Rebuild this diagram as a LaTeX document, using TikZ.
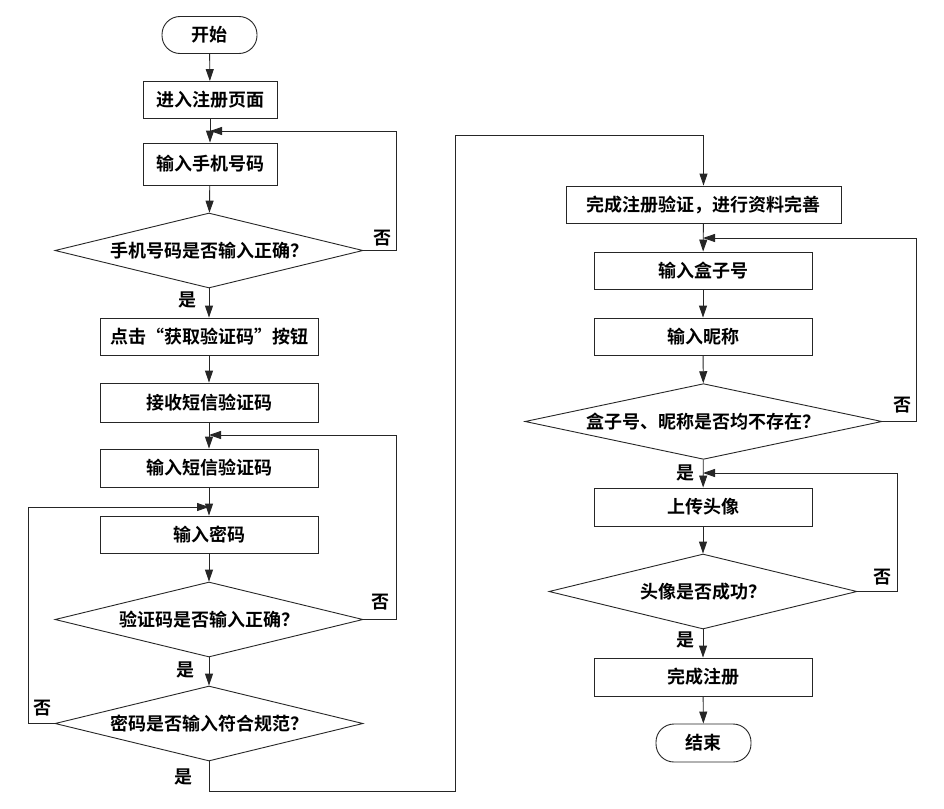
\documentclass[tikz,border=0pt]{standalone}
\usepackage{fontspec}
\setmainfont{Noto Sans CJK SC}[BoldFont={Noto Sans CJK SC Bold}]
\usetikzlibrary{shapes.geometric,arrows.meta}
\tikzset{
  base/.style={draw=black!85, line width=0.9pt, font=\fontsize{18}{20}\selectfont\bfseries, inner sep=0pt},
  procbox/.style={base, rectangle, minimum width=218pt, minimum height=37pt},
  termbox/.style={base, rectangle, rounded corners=18pt, minimum width=95pt, minimum height=37pt},
  decbox/.style={base, diamond, aspect=4, minimum width=308pt, minimum height=75pt},
  flow/.style={draw=black!85, line width=0.9pt, -{Triangle[length=12pt,width=8pt]}},
  lbl/.style={font=\fontsize{18}{20}\selectfont\bfseries, inner sep=0pt}
}
\begin{document}
\begin{tikzpicture}[x=1pt,y=-1pt]
\useasboundingbox[fill=white] (0,0) rectangle (944,808);
% left column
\node[termbox] (start) at (209.5,35) {开始};
\node[procbox, minimum width=134pt] (n1) at (210,100) {进入注册页面};
\node[procbox, minimum width=134pt, minimum height=42pt] (n2) at (210,164) {输入手机号码};
\node[decbox] (d1) at (209,250.5) {手机号码是否输入正确？};
\node[procbox] (n3) at (209,336.5) {点击“获取验证码”按钮};
\node[procbox, minimum height=39pt] (n4) at (209,402.5) {接收短信验证码};
\node[procbox, minimum height=38pt] (n5) at (209,468) {输入短信验证码};
\node[procbox] (n6) at (209,534.5) {输入密码};
\node[decbox] (d2) at (209,619.5) {验证码是否输入正确？};
\node[decbox] (d3) at (209,723.5) {密码是否输入符合规范？};
% right column
\node[procbox, minimum width=275pt] (r1) at (703.5,204.5) {完成注册验证，进行资料完善};
\node[procbox] (r2) at (703,270.5) {输入盒子号};
\node[procbox] (r3) at (703,336.5) {输入昵称};
\node[decbox, minimum width=357pt] (d4) at (703.5,421.5) {盒子号、昵称是否均不存在？};
\node[procbox, minimum height=38pt] (r4) at (703,507) {上传头像};
\node[decbox] (d5) at (703,591.5) {头像是否成功？};
\node[procbox, minimum height=38pt] (r5) at (703,677) {完成注册};
\node[termbox, minimum height=38pt] (end) at (703.5,743) {结束};
% junction coordinates
\coordinate (j1) at (210,131);
\coordinate (j2) at (209,435);
\coordinate (j3) at (209,507);
\coordinate (j4) at (703,238);
\coordinate (j5) at (703,473);
% main flow
\draw[flow] (start) -- (n1);
\draw[flow] (n1) -- (n2);
\draw[flow] (n2) -- (d1);
\draw[flow] (d1) -- (n3);
\draw[flow] (n3) -- (n4);
\draw[flow] (n4) -- (n5);
\draw[flow] (n5) -- (n6);
\draw[flow] (n6) -- (d2);
\draw[flow] (d2) -- (d3);
\draw[flow] (d3.south) -- (209,791) -- (455,791) -- (455,135) -- (703.5,135) -- (r1.north);
\draw[flow] (r1) -- (r2);
\draw[flow] (r2) -- (r3);
\draw[flow] (r3) -- (d4);
\draw[flow] (d4) -- (r4);
\draw[flow] (r4) -- (d5);
\draw[flow] (d5) -- (r5);
\draw[flow] (r5) -- (end);
% loops
\draw[flow] (d1.east) -- (396,250.5) -- (396,131) -- (j1);
\draw[flow] (d2.east) -- (396,619.5) -- (396,435) -- (j2);
\draw[flow] (d3.west) -- (28,723.5) -- (28,507) -- (j3);
\draw[flow] (d4.east) -- (916,421.5) -- (916,238) -- (j4);
\draw[flow] (d5.east) -- (897,591.5) -- (897,473) -- (j5);
% labels
\node[lbl] (no1) at (382,238) {否};
\node[lbl] (no2) at (380,602) {否};
\node[lbl] (no3) at (42,708) {否};
\node[lbl] (no4) at (902,405) {否};
\node[lbl] (no5) at (882,577) {否};
\node[lbl] (yes1) at (187,300) {是};
\node[lbl] (yes2) at (185,670) {是};
\node[lbl] (yes3) at (183,777) {是};
\node[lbl] (yes4) at (685,473) {是};
\node[lbl] (yes5) at (685,640) {是};
\end{tikzpicture}
\end{document}
